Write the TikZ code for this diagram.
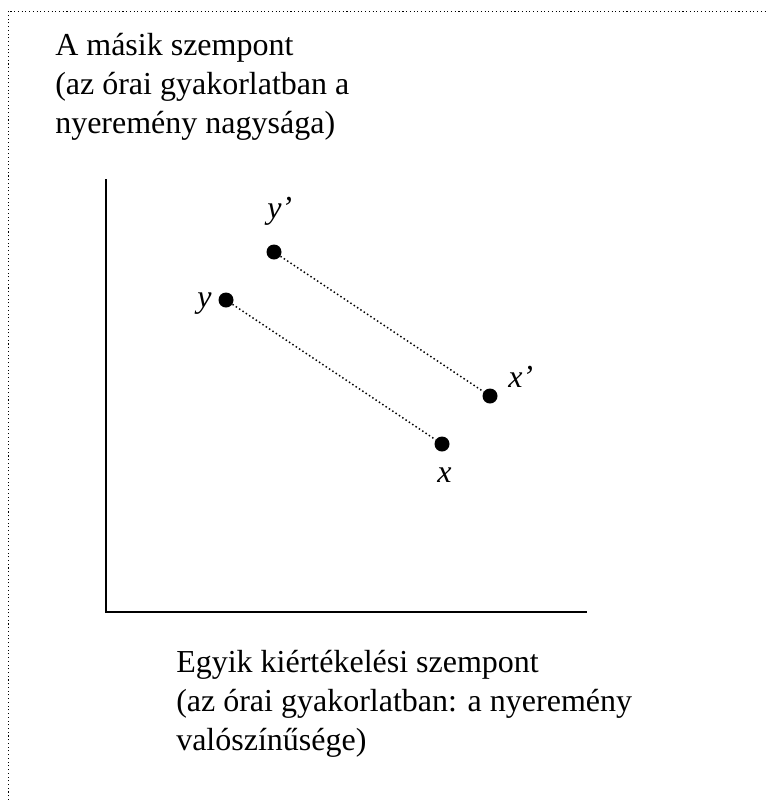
\documentclass[tikz,border=0pt]{standalone}
\usepackage{fontspec}
\setmainfont{Liberation Serif}
\begin{document}
\begin{tikzpicture}[
            x=0.75pt, y=-0.75pt,
            pont/.style={circle, fill=black, minimum size=11.25pt, inner sep=0pt},
            felirat/.style={anchor=base west, inner sep=0pt, font=\fontsize{24}{29}\selectfont\itshape},
            szoveg/.style={anchor=base west, inner sep=0pt, align=left, font=\fontsize{24}{29}\selectfont},
            keret/.style={line width=0.75pt, dash pattern=on 0.8pt off 2pt},
            tengely/.style={line width=1.5pt},
            pontozott/.style={line width=1.1pt, dash pattern=on 1.1pt off 1.9pt}
            ]
            \useasboundingbox (0,0) rectangle (767,800);
            % keret
            \coordinate (ka) at (8,800);
            \coordinate (kb) at (8,11);
            \coordinate (kc) at (767,11);
            \draw[keret] (ka)--(kb)--(kc);

            % a base horgony az utolso sor alapvonala
            \node[szoveg] (fent) at (55,133) {A másik szempont\\(az órai gyakorlatban a\\nyeremény nagysága)};

            % tengelyek
            \coordinate (tf) at (106,179);
            \coordinate (o) at (106,612);
            \coordinate (tj) at (587,612);
            \draw[tengely] (tf)--(o)--(tj);

            \node[pont] (yv) at (274,252) {};
            \node[pont] (y) at (226,300) {};
            \node[pont] (xv) at (490,396) {};
            \node[pont] (x) at (442,444) {};

            \draw[pontozott] (y)--(x);
            \draw[pontozott] (yv)--(xv);

            \node[felirat] (lyv) at (267,218) {y’};
            \node[felirat] (ly) at (197,307) {y};
            \node[felirat] (lxv) at (508,387) {x’};
            \node[felirat] (lx) at (437,482) {x};

            \node[szoveg] (lent) at (176,750) {Egyik kiértékelési szempont\\(az órai gyakorlatban: a nyeremény\\valószínűsége)};

            \end{tikzpicture}
\end{document}
